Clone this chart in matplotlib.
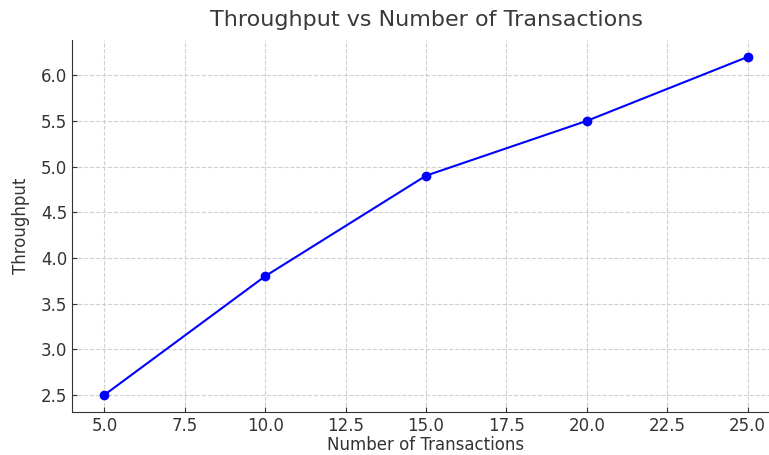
import matplotlib
matplotlib.use("Agg")
import matplotlib.pyplot as plt

transactions = [5, 10, 15, 20, 25]
throughput = [2.5, 3.8, 4.9, 5.5, 6.2]

fig = plt.figure(figsize=(7.69, 4.55), dpi=100)
ax = fig.add_axes([0.094, 0.095, 0.92, 0.817])

ax.plot(transactions, throughput, marker="o", color="blue", linewidth=1.5, markersize=6)

ax.set_title("Throughput vs Number of Transactions", fontsize=16, color="#3a3a3a", pad=10)
ax.set_xlabel("Number of Transactions", fontsize=12, color="#333333", labelpad=1)
ax.set_ylabel("Throughput", fontsize=12, color="#333333", labelpad=8)

ax.grid(True, linestyle="--", color="#d0d0d0", linewidth=0.8)
ax.spines["top"].set_visible(False)
ax.spines["right"].set_visible(False)
ax.spines["left"].set_color("#333333")
ax.spines["bottom"].set_color("#333333")
ax.tick_params(direction="in", labelsize=12, labelcolor="#333333", color="#333333")
ax.set_xticks([5.0, 7.5, 10.0, 12.5, 15.0, 17.5, 20.0, 22.5, 25.0])

fig.savefig("out.png", dpi=100)
